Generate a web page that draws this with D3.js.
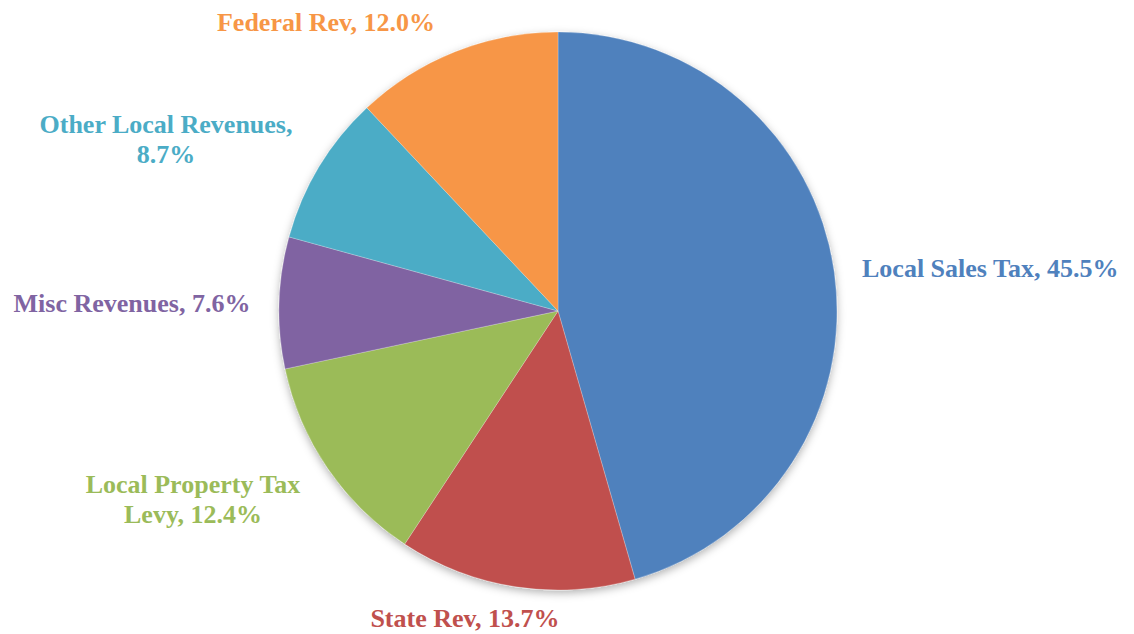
<!DOCTYPE html>
<html>
<head>
<meta charset="utf-8">
<script src="https://cdn.jsdelivr.net/npm/d3@7"></script>
<style>
  html, body { margin: 0; padding: 0; background: #fff; }
  svg { display: block; }
  .lbl { font-family: "Liberation Serif", "Times New Roman", Times, serif; font-weight: bold; font-size: 26px; }
</style>
</head>
<body>
<svg id="chart" width="1134" height="634"></svg>
<script>
// Revenue sources, clockwise from 12 o'clock
const categories = ["Local Sales Tax", "State Rev", "Local Property Tax Levy", "Misc Revenues", "Other Local Revenues", "Federal Rev"];
const shares = [45.5, 13.7, 12.4, 7.6, 8.7, 12.0];
const colors = ["#4F81BD", "#C0504D", "#9BBB59", "#8064A2", "#4BACC6", "#F79646"];
// Label text split into lines
const labelLines = [
  ["Local Sales Tax, 45.5%"],
  ["State Rev, 13.7%"],
  ["Local Property Tax", "Levy, 12.4%"],
  ["Misc Revenues, 7.6%"],
  ["Other Local Revenues,", "8.7%"],
  ["Federal Rev, 12.0%"]
];

// Layout
const width = 1134, height = 634;
const cx = 558, cy = 311, radius = 279;
// first-line baseline of each label
const labelLayout = [
  { x: 862, y: 277, anchor: "start" },
  { x: 465, y: 627, anchor: "middle" },
  { x: 193, y: 493, anchor: "middle" },
  { x: 132, y: 312, anchor: "middle" },
  { x: 166, y: 133, anchor: "middle" },
  { x: 326, y: 31, anchor: "middle" }
];
const lineHeight = 30;

const svg = d3.select("#chart");

const defs = svg.append("defs");
const shadow = defs.append("filter").attr("id", "pieShadow")
  .attr("x", "-10%").attr("y", "-10%").attr("width", "120%").attr("height", "120%");
shadow.append("feDropShadow")
  .attr("dx", 0).attr("dy", 3).attr("stdDeviation", 4)
  .attr("flood-color", "#000").attr("flood-opacity", 0.3);

const data = categories.map((c, i) => ({ name: c, value: shares[i], color: colors[i], i }));

const pie = d3.pie().value(d => d.value).sort(null);
const arc = d3.arc().innerRadius(0).outerRadius(radius);

const g = svg.append("g")
  .attr("transform", `translate(${cx},${cy})`)
  .attr("filter", "url(#pieShadow)");

g.selectAll("path.slice")
  .data(pie(data))
  .join("path")
  .attr("class", "slice")
  .attr("d", arc)
  .attr("fill", d => d.data.color)
  .attr("stroke", "#ffffff")
  .attr("stroke-width", 0.4)
  .attr("stroke-opacity", 0.6);

// Category labels
const labels = svg.append("g")
  .selectAll("text")
  .data(data)
  .join("text")
  .attr("class", "lbl")
  .attr("x", d => labelLayout[d.i].x)
  .attr("y", d => labelLayout[d.i].y)
  .attr("text-anchor", d => labelLayout[d.i].anchor)
  .attr("fill", d => d.color);

labels.each(function(d) {
  const t = d3.select(this);
  labelLines[d.i].forEach((line, k) => {
    t.append("tspan")
      .attr("x", labelLayout[d.i].x)
      .attr("dy", k === 0 ? 0 : lineHeight)
      .text(line);
  });
});
</script>
</body>
</html>
